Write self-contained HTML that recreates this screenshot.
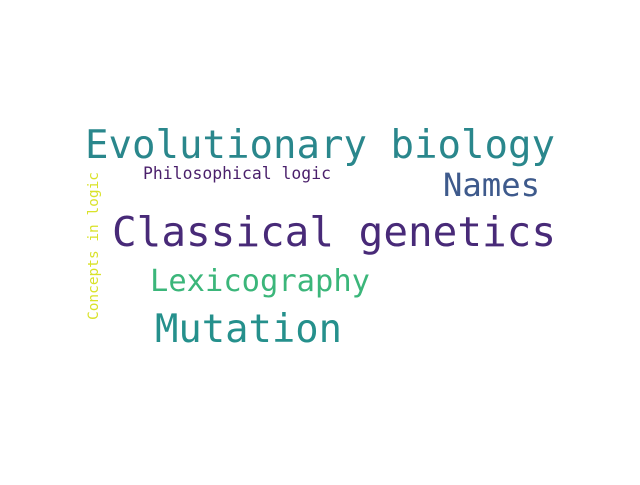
<!DOCTYPE html>
<html><head><meta charset="utf-8"><style>
body{margin:0;background:#fff}
svg text{font-family:"DejaVu Sans Mono","Liberation Mono",monospace}
</style></head><body>
<svg width="640" height="480" viewBox="0 0 640 480">
<rect width="640" height="480" fill="#fff"/>
<text x="85" y="158" font-size="39" fill="#2a878c" textLength="470" lengthAdjust="spacingAndGlyphs">Evolutionary biology</text>
<text x="143" y="179" font-size="16.4" fill="#4a1f6b" textLength="188" lengthAdjust="spacingAndGlyphs">Philosophical logic</text>
<text x="443" y="196" font-size="32" fill="#3e5a8c" textLength="97" lengthAdjust="spacingAndGlyphs">Names</text>
<text x="112" y="246" font-size="41" fill="#482a78" textLength="444" lengthAdjust="spacingAndGlyphs">Classical genetics</text>
<text x="150" y="291" font-size="30" fill="#3bb67a" textLength="220" lengthAdjust="spacingAndGlyphs">Lexicography</text>
<text x="155" y="342" font-size="39" fill="#25908c" textLength="187" lengthAdjust="spacingAndGlyphs">Mutation</text>
<text transform="translate(98,320) rotate(-90)" x="0" y="0" font-size="14.5" fill="#d9e22a" textLength="148" lengthAdjust="spacingAndGlyphs">Concepts in logic</text>
</svg>
</body></html>
